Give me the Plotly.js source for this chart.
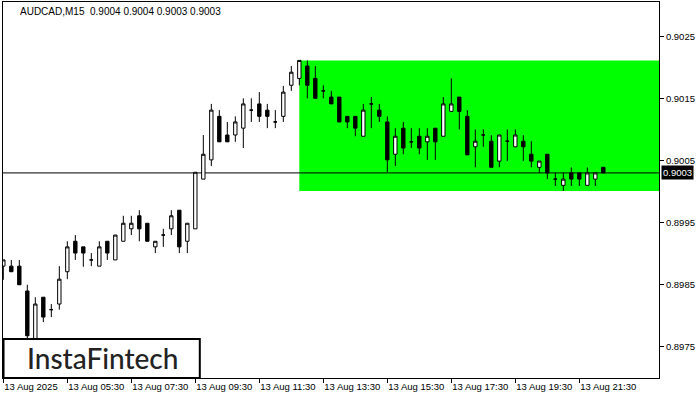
<!DOCTYPE html>
<html>
<head>
<meta charset="utf-8">
<script src="https://cdn.plot.ly/plotly-3.0.1.min.js"></script>
<style>html,body{margin:0;padding:0;background:#fff;}#chart{width:700px;height:400px;}</style>
</head>
<body>
<div id="chart"></div>
<script>
// AUDCAD M15, 13 Aug 2025, bars from 03:30 every 15 minutes
const startTime = '2025-08-13T03:30:00';
const open = [0.89880,0.89880,0.89880,0.89840,0.89755,0.89830,0.89810,0.89819,0.89871,0.89920,
0.89911,0.89890,0.89880,0.89920,0.89890,0.89920,0.89940,0.89961,0.89949,0.89911,
0.89930,0.89940,0.89970,0.89920,0.89940,0.90020,0.90051,0.90121,0.90091,0.90091,
0.90102,0.90131,0.90141,0.90131,0.90112,0.90121,0.90171,0.90182,0.90202,0.90182,
0.90162,0.90152,0.90152,0.90121,0.90121,0.90089,0.90141,0.90131,0.90112,0.90060,
0.90102,0.90080,0.90089,0.90080,0.90102,0.90089,0.90129,0.90152,0.90121,0.90072,
0.90091,0.90081,0.90049,0.90081,0.90072,0.90081,0.90060,0.90039,0.90060,0.90020,
0.90010,0.90030,0.90030,0.90010,0.90020,0.90039];
const high = [0.89890,0.89890,0.89890,0.89850,0.89830,0.89830,0.89819,0.89880,0.89920,0.89930,
0.89911,0.89901,0.89920,0.89920,0.89930,0.89961,0.89961,0.89970,0.89949,0.89920,
0.89940,0.89970,0.89970,0.89949,0.90031,0.90091,0.90141,0.90131,0.90112,0.90121,
0.90150,0.90150,0.90160,0.90141,0.90131,0.90170,0.90202,0.90211,0.90211,0.90202,
0.90171,0.90162,0.90152,0.90121,0.90121,0.90141,0.90152,0.90141,0.90121,0.90102,
0.90112,0.90102,0.90102,0.90102,0.90102,0.90152,0.90182,0.90152,0.90131,0.90100,
0.90100,0.90091,0.90091,0.90100,0.90100,0.90091,0.90081,0.90049,0.90060,0.90030,
0.90030,0.90039,0.90030,0.90039,0.90030,0.90039];
const low = [0.89858,0.89871,0.89850,0.89762,0.89748,0.89790,0.89798,0.89810,0.89859,0.89890,
0.89879,0.89880,0.89880,0.89890,0.89890,0.89920,0.89930,0.89920,0.89920,0.89901,
0.89911,0.89930,0.89901,0.89901,0.89940,0.90020,0.90041,0.90080,0.90080,0.90080,
0.90070,0.90112,0.90112,0.90102,0.90102,0.90112,0.90162,0.90171,0.90150,0.90150,
0.90150,0.90141,0.90112,0.90102,0.90089,0.90089,0.90102,0.90112,0.90031,0.90041,
0.90060,0.90070,0.90060,0.90051,0.90051,0.90089,0.90129,0.90100,0.90059,0.90039,
0.90072,0.90039,0.90039,0.90049,0.90072,0.90049,0.90039,0.90030,0.90020,0.90009,
0.90001,0.90009,0.90009,0.90010,0.90009,0.90030];
const close = [0.89890,0.89871,0.89850,0.89768,0.89819,0.89798,0.89810,0.89859,0.89911,0.89901,
0.89901,0.89890,0.89911,0.89901,0.89930,0.89949,0.89949,0.89940,0.89920,0.89920,
0.89930,0.89961,0.89911,0.89949,0.90031,0.90060,0.90131,0.90080,0.90080,0.90112,
0.90141,0.90131,0.90121,0.90121,0.90112,0.90160,0.90192,0.90211,0.90171,0.90150,
0.90162,0.90141,0.90112,0.90112,0.90102,0.90131,0.90141,0.90121,0.90051,0.90089,
0.90070,0.90080,0.90070,0.90089,0.90080,0.90141,0.90141,0.90129,0.90059,0.90081,
0.90091,0.90039,0.90091,0.90081,0.90091,0.90072,0.90049,0.90049,0.90030,0.90020,
0.90020,0.90020,0.90020,0.90030,0.90030,0.90030];

const tickTimes = ['2025-08-13 03:30','2025-08-13 05:30','2025-08-13 07:30','2025-08-13 09:30','2025-08-13 11:30',
'2025-08-13 13:30','2025-08-13 15:30','2025-08-13 17:30','2025-08-13 19:30','2025-08-13 21:30'];
const tickLabels = ['13 Aug 2025','13 Aug 05:30','13 Aug 07:30','13 Aug 09:30','13 Aug 11:30',
'13 Aug 13:30','13 Aug 15:30','13 Aug 17:30','13 Aug 19:30','13 Aug 21:30'];
const priceTicks = [0.8975,0.8985,0.8995,0.9005,0.9015,0.9025];
const priceLabels = ['0.8975','0.8985','0.8995','0.9005','0.9015','0.9025'];
const currentPrice = 0.90030;
const currentLabel = '0.9003';
const zoneStart = '2025-08-13 12:45';
const zoneLow = 0.90001, zoneHigh = 0.90211;
const titleText = 'AUDCAD,M15\u00a0\u00a00.9004 0.9004 0.9003 0.9003';

const t0 = new Date(startTime + 'Z').getTime();
const times = open.map((_, i) => new Date(t0 + i * 15 * 60000).toISOString().slice(0, 19).replace('T', ' '));

const xStart = '2025-08-13 03:29:24';
const xEnd = '2025-08-13 23:59:24';

const trace = {
  type: 'candlestick',
  x: times, open: open, high: high, low: low, close: close,
  increasing: {line: {color: '#000', width: 1}, fillcolor: '#fff'},
  decreasing: {line: {color: '#000', width: 1}, fillcolor: '#000'},
  whiskerwidth: 0,
  hoverinfo: 'skip',
  showlegend: false
};

const axisFont = {family: 'Liberation Sans, Arial, sans-serif', size: 9.5, color: '#000'};

const layout = {
  width: 700, height: 400,
  margin: {l: 3, r: 41, t: 2, b: 22, pad: 0},
  paper_bgcolor: '#fff', plot_bgcolor: '#fff',
  boxgap: 0.4,
  showlegend: false,
  xaxis: {
    type: 'date', range: [xStart, xEnd],
    rangeslider: {visible: false},
    showgrid: false, zeroline: false,
    showline: true, linecolor: '#000', linewidth: 1, mirror: true,
    ticks: 'outside', ticklen: 4, tickcolor: '#000', tickwidth: 1,
    tickmode: 'array', tickvals: tickTimes, ticktext: tickLabels,
    tickangle: 0,
    ticklabelposition: 'outside right',
    tickfont: axisFont
  },
  yaxis: {
    side: 'right', range: [0.89700, 0.90305],
    showgrid: false, zeroline: false,
    showline: true, linecolor: '#000', linewidth: 1, mirror: true,
    ticks: 'outside', ticklen: 4, tickcolor: '#000', tickwidth: 1,
    tickmode: 'array', tickvals: priceTicks, ticktext: priceLabels,
    tickfont: axisFont
  },
  shapes: [
    {type: 'rect', xref: 'x', yref: 'y', x0: zoneStart, x1: xEnd, y0: zoneLow, y1: zoneHigh,
     fillcolor: '#00ff00', line: {width: 0}, layer: 'below'},
    {type: 'line', xref: 'x', yref: 'y', x0: xStart, x1: xEnd, y0: currentPrice, y1: currentPrice,
     line: {color: '#000', width: 1}, layer: 'below'},
    {type: 'rect', xref: 'paper', yref: 'paper', x0: 0.0008, x1: 0.3, y0: 0.0, y1: 0.104,
     fillcolor: '#fff', line: {color: '#000', width: 2}, layer: 'above'}
  ],
  annotations: [
    {xref: 'paper', yref: 'paper', x: 0.0229, y: 1, xanchor: 'left', yanchor: 'top', yshift: -2,
     text: titleText, showarrow: false, font: {family: 'Liberation Sans, Arial, sans-serif', size: 10, color: '#000'}},
    {xref: 'paper', yref: 'y', x: 1, y: currentPrice, xanchor: 'left', yanchor: 'middle', xshift: 2,
     text: currentLabel, showarrow: false, bgcolor: '#000', borderpad: 1,
     font: {family: 'Liberation Sans, Arial, sans-serif', size: 9.5, color: '#fff'}},
    {xref: 'paper', yref: 'paper', x: 0.151, y: 0.052, xanchor: 'center', yanchor: 'middle',
     text: 'InstaFintech', showarrow: false,
     font: {family: 'Lato, Open Sans, sans-serif', size: 28, weight: 500, color: '#222'}}
  ]
};

Plotly.newPlot('chart', [trace], layout, {staticPlot: true, displayModeBar: false});
</script>
</body>
</html>
